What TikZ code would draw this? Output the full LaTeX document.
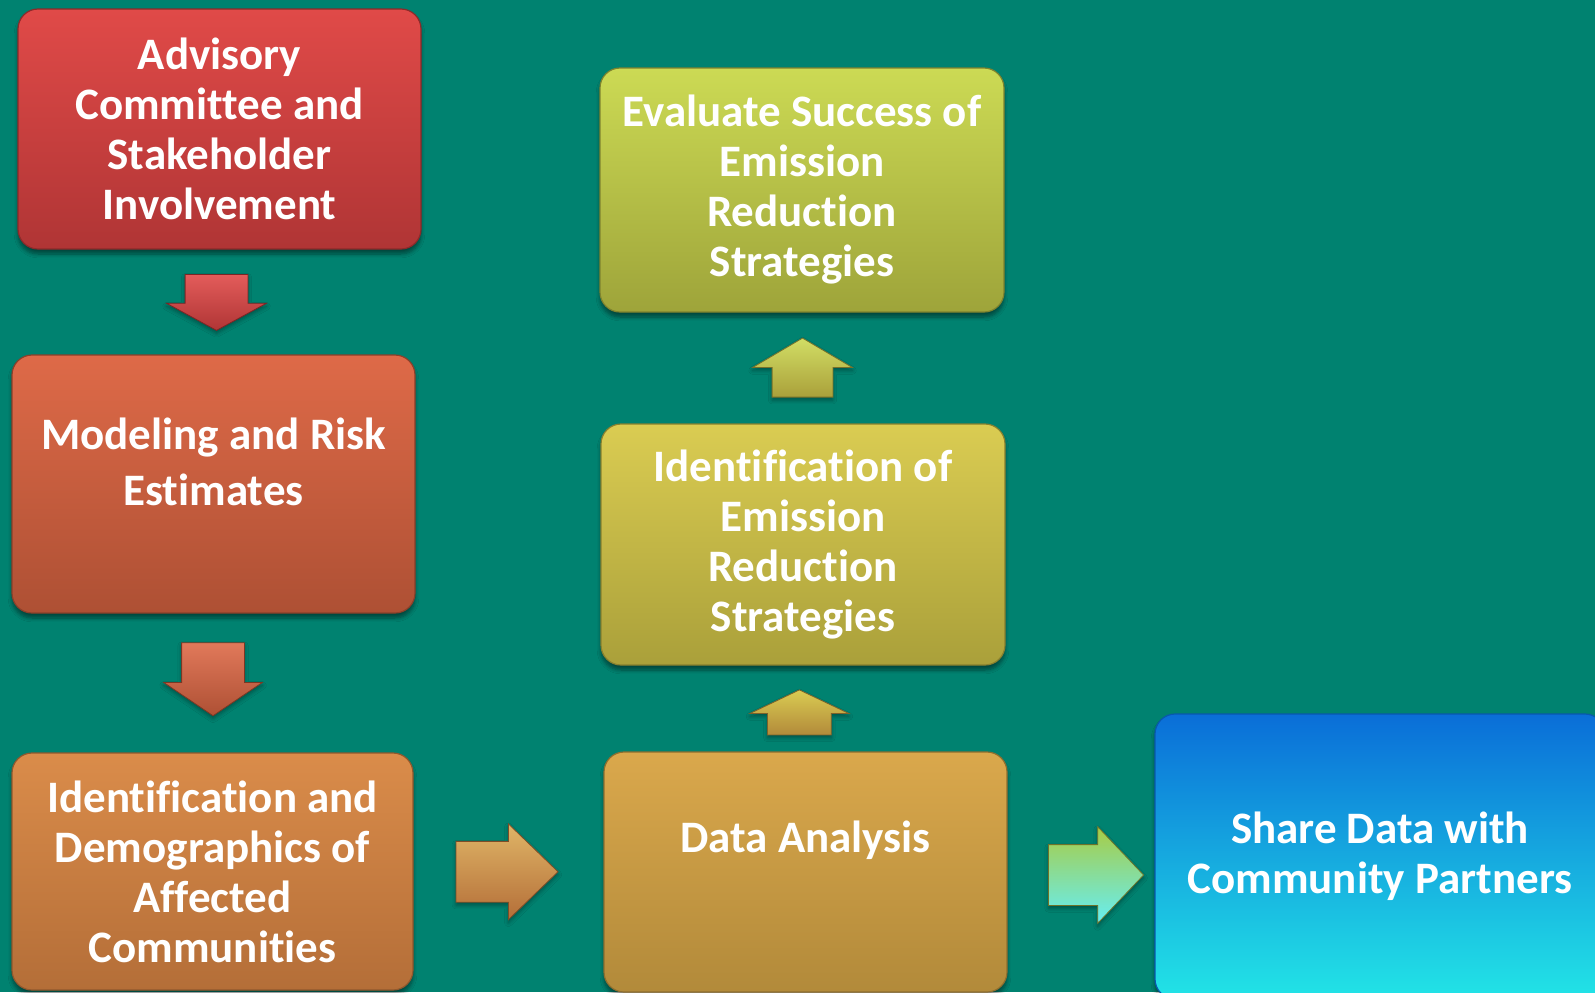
\documentclass[tikz,border=0pt]{standalone}
\usepackage{fontspec}
\setmainfont{Carlito}[Ligatures={NoCommon}]
\usetikzlibrary{calc,shapes.arrows,shadows.blur}

\definecolor{bg}{RGB}{0,130,112}
\definecolor{advtop}{HTML}{E04A48}   \definecolor{advbot}{HTML}{B03535}
\definecolor{modtop}{HTML}{DE6A48}   \definecolor{modbot}{HTML}{AE5034}
\definecolor{afftop}{HTML}{DA8C4A}   \definecolor{affbot}{HTML}{B46E38}
\definecolor{datatop}{HTML}{DAA84C}  \definecolor{databot}{HTML}{B28A3A}
\definecolor{strattop}{HTML}{DACC52} \definecolor{stratbot}{HTML}{AAA03A}
\definecolor{evaltop}{HTML}{CCDA54}  \definecolor{evalbot}{HTML}{9EA43A}
\definecolor{sharetop}{HTML}{0A6ED8} \definecolor{sharemid}{HTML}{14ACEE}
\definecolor{sharebot}{HTML}{22E4E6}
\definecolor{limetop}{HTML}{A8CC44}  \definecolor{limemid}{HTML}{8CDDA0}
\definecolor{limebot}{HTML}{66EEF4}

% one pixel of the slide
\newcommand\px{0.5pt}
\tikzstyle{stage}=[
  rounded corners=10pt,inner sep=0pt,
  minimum width=403*\px,minimum height=240*\px,
  line width=0.6pt,
  blur shadow={shadow xshift=0pt,shadow yshift=-2.5pt,
    shadow blur steps=6,shadow opacity=45}]
\tikzstyle{stagetext}=[text=white,align=center,
  font=\fontsize{22.5}{25}\selectfont\bfseries]
% the shaft width comes from the inner sep across the arrow
\tikzstyle{blockarr}=[single arrow,inner sep=0pt,line width=0.4pt,
  anchor=tail,
  blur shadow={shadow xshift=0pt,shadow yshift=-1.5pt,
    shadow blur steps=4,shadow opacity=35}]
\tikzstyle{harr}=[blockarr,inner ysep=#1*\px]
\tikzstyle{varr}=[blockarr,inner xsep=#1*\px]

\begin{document}
\begin{tikzpicture}[x=\px,y=-\px]
  \useasboundingbox (0,0) rectangle (1595,992);
  \fill[bg] (0,0) rectangle (1595,992);
  \clip (0,0) rectangle (1595,992);

  % left column
  \node[stage,top color=advtop,bottom color=advbot,draw=advbot!80!black]
    (adv) at (219.5,129) {};
  \node[stage,minimum height=258*\px,top color=modtop,bottom color=modbot,
    draw=modbot!80!black] (model) at (213.5,484) {};
  \node[stage,minimum width=401*\px,minimum height=237*\px,
    top color=afftop,bottom color=affbot,draw=affbot!80!black]
    (affected) at (212.5,871.5) {};

  % middle column
  \node[stage,top color=datatop,bottom color=databot,draw=databot!80!black]
    (data) at (805.5,872) {};
  \node[stage,minimum width=404*\px,minimum height=241*\px,
    top color=strattop,bottom color=stratbot,draw=stratbot!80!black]
    (strat) at (803,544.5) {};
  \node[stage,minimum width=404*\px,minimum height=244*\px,
    top color=evaltop,bottom color=evalbot,draw=evalbot!80!black]
    (eval) at (802,190) {};

  % right
  \node[stage,minimum width=450*\px,minimum height=285*\px,
    top color=sharetop,middle color=sharemid,bottom color=sharebot,
    draw=sharetop!80!black] (share) at (1380,856.5) {};

  % texts
  \node[stagetext] (adv-t) at (adv)
    {Advisory\\Committee and\\Stakeholder\\Involvement};
  \node[stagetext,font=\fontsize{22.5}{28}\selectfont\bfseries] (model-t)
    at ([yshift=11pt]model.center) {Modeling and Risk\\Estimates};
  \node[stagetext] (affected-t) at (affected)
    {Identification and\\Demographics of\\Affected\\Communities};
  \node[stagetext] (data-t) at ([yshift=16pt]data.center) {Data Analysis};
  \node[stagetext] (strat-t) at (strat)
    {Identification of\\Emission\\Reduction\\Strategies};
  \node[stagetext] (eval-t) at (eval)
    {Evaluate Success of\\Emission\\Reduction\\Strategies};
  \node[stagetext] (share-t) at (share)
    {Share Data with\\Community Partners};

  % block arrows between the stages (placed by their tails)
  \node[varr=31,shape border rotate=270,minimum height=56*\px,
    minimum width=99*\px,single arrow head extend=18.5*\px,
    single arrow tip angle=123,top color=advtop!90!white,
    bottom color=advbot,draw=advbot!70!black]
    (a1) at ($(adv.south)!.5!(model.north)+(0,-28)$) {};
  \node[varr=31,shape border rotate=270,minimum height=73*\px,
    minimum width=98*\px,single arrow head extend=18*\px,
    single arrow tip angle=112,top color=modtop!90!white,
    bottom color=modbot,draw=modbot!70!black]
    (a2) at ($(model.south)!.47!(affected.north)+(0,-36.5)$) {};
  \node[harr=30,minimum height=102*\px,
    minimum width=95*\px,single arrow head extend=17.5*\px,
    single arrow tip angle=88,top color=datatop!85!white,
    bottom color=affbot,draw=affbot!70!black]
    (a3) at ($(affected.east)!.49!(data.west)+(-51,0)$) {};
  \node[varr=31.5,shape border rotate=90,minimum height=45*\px,
    minimum width=98*\px,single arrow head extend=17.5*\px,
    single arrow tip angle=129,top color=strattop,
    bottom color=databot,draw=databot!70!black]
    (a4) at ($(data.north)!.45!(strat.south)+(-5,22.5)$) {};
  \node[varr=30,shape border rotate=90,minimum height=59*\px,
    minimum width=99*\px,single arrow head extend=19.5*\px,
    single arrow tip angle=119,top color=evaltop!90!white,
    bottom color=stratbot,draw=stratbot!70!black]
    (a5) at ($(strat.north)!.5!(eval.south)+(0,29.5)$) {};
  \node[harr=30,minimum height=95*\px,
    minimum width=96*\px,single arrow head extend=18*\px,
    single arrow tip angle=93,top color=limetop,
    middle color=limemid,bottom color=limebot,
    draw=evalbot!70!black]
    (a6) at ($(data.east)!.6!(data.east -| share.west)+(-47.5,3)$) {};
\end{tikzpicture}
\end{document}
